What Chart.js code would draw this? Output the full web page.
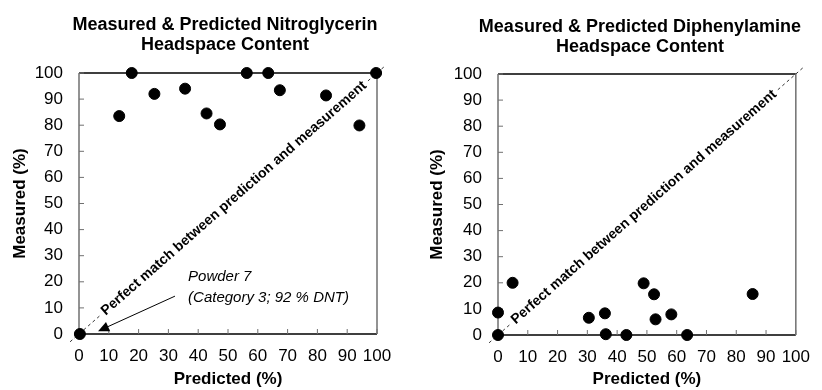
<!DOCTYPE html>
<html>
<head>
<meta charset="utf-8">
<script src="https://cdn.jsdelivr.net/npm/chart.js@4.4.0/dist/chart.umd.min.js"></script>
<style>
    body { margin: 0; background: #fff; }
    .painel { position: absolute; top: 0; width: 411px; height: 390px; }
</style>
</head>
<body>
<div class="painel" style="left:0"><canvas id="graficoNG" width="411" height="390"></canvas></div>
<div class="painel" style="left:411px"><canvas id="graficoDPA" width="411" height="390"></canvas></div>
<script>
// Nitroglycerin: predicted vs measured (%)
const ngPredito = [0.3, 13.5, 17.7, 25.3, 35.6, 42.8, 47.3, 56.3, 63.5, 67.4, 82.9, 94.1, 99.7];
const ngMedido  = [0, 83.5, 100, 92, 94, 84.5, 80.3, 100, 100, 93.4, 91.4, 79.9, 100];

// Diphenylamine: predicted vs measured (%)
const dpaPredito = [0, 0, 4.9, 30.5, 35.9, 36.2, 43.1, 48.9, 52.4, 52.9, 58.2, 63.5, 85.5];
const dpaMedido  = [0, 8.6, 20.0, 6.6, 8.3, 0.3, 0, 19.8, 15.6, 6.0, 7.9, 0, 15.7];

const marcasEixo = [0, 10, 20, 30, 40, 50, 60, 70, 80, 90, 100];
const linhaIdeal = [-3, 103];

const FONTE = "'Liberation Sans', Arial, sans-serif";
const TEXTO_DIAGONAL = 'Perfect match between prediction and measurement';

Chart.defaults.font.family = FONTE;
Chart.defaults.color = '#000';

function pontos(xs, ys) {
    return xs.map((v, i) => ({ x: v, y: ys[i] }));
}

const molduraPlugin = {
    id: 'moldura',
    beforeDatasetsDraw(chart) {
        const { ctx, chartArea: a, scales: { x, y } } = chart;
        ctx.save();
        ctx.lineWidth = 1.5;
        ctx.strokeStyle = '#000';
        ctx.beginPath();
        ctx.moveTo(a.left, a.top); ctx.lineTo(a.right, a.top);
        ctx.moveTo(a.left, a.bottom); ctx.lineTo(a.right, a.bottom);
        ctx.stroke();
        ctx.strokeStyle = '#707070';
        ctx.beginPath();
        ctx.moveTo(a.left, a.top); ctx.lineTo(a.left, a.bottom);
        ctx.moveTo(a.right, a.top); ctx.lineTo(a.right, a.bottom);
        ctx.stroke();
        // marcas para dentro
        ctx.lineWidth = 1;
        ctx.beginPath();
        marcasEixo.forEach(v => {
            const px = x.getPixelForValue(v);
            ctx.moveTo(px, a.bottom); ctx.lineTo(px, a.bottom - 5);
            const py = y.getPixelForValue(v);
            ctx.moveTo(a.left, py); ctx.lineTo(a.left + 5, py);
        });
        ctx.stroke();
        ctx.restore();
    },
    afterDatasetDraw(chart, args, opts) {
        if (args.index !== 0) return;
        const { ctx, scales: { x, y } } = chart;
        const x0 = x.getPixelForValue(0), y0 = y.getPixelForValue(0);
        const x1 = x.getPixelForValue(100), y1 = y.getPixelForValue(100);
        const ang = Math.atan2(y1 - y0, x1 - x0);
        const cx = x.getPixelForValue(opts.centro), cy = y.getPixelForValue(opts.centro);
        ctx.save();
        ctx.translate(cx, cy);
        ctx.rotate(ang);
        ctx.font = 'bold 14px ' + FONTE;
        const w = ctx.measureText(TEXTO_DIAGONAL).width;
        ctx.fillStyle = '#fff';
        ctx.fillRect(-w / 2 - 3, -8, w + 6, 16);
        ctx.fillStyle = '#000';
        ctx.textAlign = 'center';
        ctx.textBaseline = 'middle';
        ctx.fillText(TEXTO_DIAGONAL, 0, 0);
        ctx.restore();

        if (!opts.nota) return;
        const n = opts.nota;
        ctx.save();
        ctx.font = 'italic 15px ' + FONTE;
        ctx.fillStyle = '#000';
        ctx.textBaseline = 'middle';
        n.linhas.forEach((t, i) => {
            ctx.fillText(t, x.getPixelForValue(n.x), y.getPixelForValue(n.y[i]));
        });
        // seta
        const ax = x.getPixelForValue(n.seta[0]), ay = y.getPixelForValue(n.seta[1]);
        const bx = x.getPixelForValue(n.seta[2]), by = y.getPixelForValue(n.seta[3]);
        const a2 = Math.atan2(by - ay, bx - ax);
        ctx.strokeStyle = '#000';
        ctx.lineWidth = 1;
        ctx.beginPath();
        ctx.moveTo(ax, ay); ctx.lineTo(bx - 9 * Math.cos(a2), by - 9 * Math.sin(a2));
        ctx.stroke();
        ctx.beginPath();
        ctx.moveTo(bx, by);
        ctx.lineTo(bx - 11 * Math.cos(a2) + 5 * Math.sin(a2), by - 11 * Math.sin(a2) - 5 * Math.cos(a2));
        ctx.lineTo(bx - 11 * Math.cos(a2) - 5 * Math.sin(a2), by - 11 * Math.sin(a2) + 5 * Math.cos(a2));
        ctx.closePath();
        ctx.fill();
        ctx.restore();
    },
    afterDraw(chart, args, opts) {
        // titulo centrado sobre a área do gráfico
        const { ctx, chartArea: a } = chart;
        ctx.save();
        ctx.font = 'bold 18px ' + FONTE;
        ctx.fillStyle = '#000';
        ctx.textAlign = 'center';
        ctx.textBaseline = 'middle';
        const cx = (a.left + a.right) / 2 + opts.desvioTitulo;
        opts.titulo.forEach((t, i) => ctx.fillText(t, cx, opts.tituloY + i * 20));
        ctx.restore();
    }
};

function criarGrafico(id, titulo, xs, ys, cfg) {
    return new Chart(document.getElementById(id).getContext('2d'), {
        type: 'scatter',
        data: {
            datasets: [{
                type: 'line',
                data: pontos(linhaIdeal, linhaIdeal),
                borderColor: '#333',
                borderWidth: 1,
                borderDash: [3, 3],
                pointRadius: 0,
                clip: false,
                order: 2
            }, {
                data: pontos(xs, ys),
                backgroundColor: '#000',
                borderColor: '#000',
                pointRadius: 5.5,
                clip: false,
                order: 1
            }]
        },
        options: {
            responsive: false,
            animation: false,
            layout: { padding: { left: 0, right: cfg.direita, top: cfg.topo, bottom: 0 } },
            plugins: {
                legend: { display: false },
                tooltip: { enabled: false },
                title: { display: false },
                moldura: {
                    centro: cfg.centro, nota: cfg.nota,
                    titulo: titulo, tituloY: cfg.tituloY, desvioTitulo: cfg.desvioTitulo
                }
            },
            scales: {
                x: {
                    type: 'linear', min: 0, max: 100,
                    grid: { display: false, drawTicks: false },
                    border: { display: false },
                    ticks: { stepSize: 10, padding: 12, font: { size: 17 }, maxRotation: 0, autoSkip: false },
                    title: { display: true, text: 'Predicted (%)', font: { size: 17, weight: 'bold' }, padding: { top: 0, bottom: 0 } },
                    afterFit: s => { s.height = cfg.alturaX; }
                },
                y: {
                    min: 0, max: 100,
                    grid: { display: false, drawTicks: false },
                    border: { display: false },
                    ticks: { stepSize: 10, padding: 16, font: { size: 17 }, autoSkip: false },
                    title: { display: true, text: 'Measured (%)', font: { size: 17, weight: 'bold' }, padding: { top: cfg.tituloEixoY, bottom: 0 } },
                    afterFit: s => { s.width = cfg.larguraY; }
                }
            }
        },
        plugins: [molduraPlugin]
    });
}

criarGrafico('graficoNG', ['Measured & Predicted Nitroglycerin', 'Headspace Content'], ngPredito, ngMedido, {
    direita: 34, topo: 73, larguraY: 79, alturaX: 56, tituloY: 25, desvioTitulo: -3, tituloEixoY: 10, centro: 52,
    nota: {
        linhas: ['Powder 7', '(Category 3; 92 % DNT)'],
        x: 36.6, y: [21.8, 13.8],
        seta: [32.2, 14.5, 6.4, 1.1]
    }
});

criarGrafico('graficoDPA', ['Measured & Predicted Diphenylamine', 'Headspace Content'], dpaPredito, dpaMedido, {
    direita: 16, topo: 74, larguraY: 87, alturaX: 55, tituloY: 27, desvioTitulo: -7, tituloEixoY: 16, centro: 49, nota: null
});
</script>
</body>
</html>
